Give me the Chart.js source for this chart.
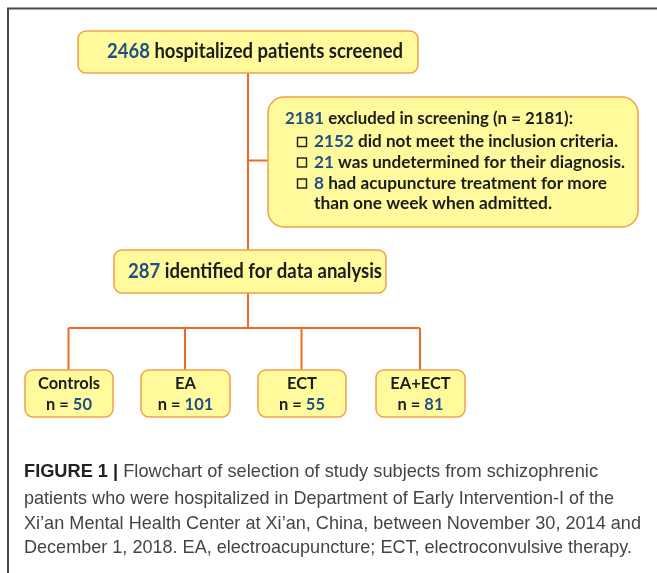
<!DOCTYPE html>
<html>
<head>
<meta charset="utf-8">
<script src="https://cdn.jsdelivr.net/npm/chart.js@4.4.1/dist/chart.umd.min.js"></script>
<style>
  html, body { margin: 0; padding: 0; background: #fff; }
  #flow { display: block; }
</style>
</head>
<body>
<canvas id="flow" width="657" height="573"></canvas>
<script>
// counts
var screenedCount = 2468;
var excludedCount = 2181;
var exclusionCounts = [2152, 21, 8];
var exclusionReasons = [
    'did not meet the inclusion criteria.',
    'was undetermined for their diagnosis.',
    'had acupuncture treatment for more'
];
var exclusionTail = 'than one week when admitted.';
var analysedCount = 287;
var groupNames = ['Controls', 'EA', 'ECT', 'EA+ECT'];
var groupCounts = [50, 101, 55, 81];
var captionLines = [
    'Flowchart of selection of study subjects from schizophrenic',
    'patients who were hospitalized in Department of Early Intervention-I of the',
    'Xi\u2019an Mental Health Center at Xi\u2019an, China, between November 30, 2014 and',
    'December 1, 2018. EA, electroacupuncture; ECT, electroconvulsive therapy.'
];

// layout (page coordinates, mapped through the hidden scales)
var layout = {
    top: { x1: 78, y1: 31, x2: 418, y2: 73, textX: 107, textW: 296 },
    excl: { x1: 268, y1: 97, x2: 638, y2: 227 },
    mid: { x1: 114, y1: 250, x2: 386, y2: 293, textX: 128, textW: 254 },
    trunkX: 248,
    branchY: 328,
    groups: [[25, 113], [141, 230], [258, 346], [376, 465]],
    groupY: [370, 417]
};

var BOX_FILL = '#fffa9c';
var BOX_EDGE = '#f2a048';
var LINE = '#f26a21';
var NUM = '#1f4f86';
var INK = '#1c1c1c';
var FONT = 'Lato, "Open Sans", sans-serif';

var xs, ys;
function px(v) { return xs.getPixelForValue(v); }
function py(v) { return ys.getPixelForValue(v); }

function roundBox(ctx, x1, y1, x2, y2, r) {
    var a = px(x1), b = py(y1), c = px(x2), d = py(y2);
    ctx.beginPath();
    ctx.roundRect(a, b, c - a, d - b, r);
    ctx.fillStyle = BOX_FILL;
    ctx.fill();
    ctx.lineWidth = 1.5;
    ctx.strokeStyle = BOX_EDGE;
    ctx.stroke();
}

function line(ctx, pts) {
    ctx.beginPath();
    pts.forEach(function (p, i) {
        if (i === 0) ctx.moveTo(px(p[0]), py(p[1]));
        else ctx.lineTo(px(p[0]), py(p[1]));
    });
    ctx.lineWidth = 2;
    ctx.strokeStyle = LINE;
    ctx.stroke();
}

// draws coloured pieces of text, squeezed to a given width
function richText(ctx, parts, x, y, width, font) {
    ctx.font = font;
    var total = 0;
    parts.forEach(function (p) {
        ctx.font = p.font || font;
        total += ctx.measureText(p.t).width;
    });
    var k = width ? width / total : 1;
    ctx.save();
    ctx.translate(px(x), py(y));
    ctx.scale(k, 1);
    ctx.textBaseline = 'middle';
    ctx.textAlign = 'left';
    var cx = 0;
    parts.forEach(function (p) {
        ctx.font = p.font || font;
        ctx.fillStyle = p.c;
        ctx.fillText(p.t, cx, 0);
        cx += ctx.measureText(p.t).width;
    });
    ctx.restore();
    return total * k;
}

function centredText(ctx, parts, cx, y, font, k) {
    ctx.font = font;
    var total = 0;
    parts.forEach(function (p) { total += ctx.measureText(p.t).width; });
    richText(ctx, parts, cx - total * k / 2, y, total * k, font);
}

var flowPlugin = {
    id: 'flow',
    afterDraw: function (chart) {
        var ctx = chart.ctx;
        xs = chart.scales.x;
        ys = chart.scales.y;
        var L = layout;

        // outer frame
        ctx.beginPath();
        ctx.moveTo(px(8), py(600));
        ctx.lineTo(px(8), py(8.5));
        ctx.lineTo(px(700), py(8.5));
        ctx.lineWidth = 2;
        ctx.strokeStyle = '#4a4a4a';
        ctx.stroke();

        // connectors
        line(ctx, [[L.trunkX, L.top.y2], [L.trunkX, L.mid.y1]]);
        line(ctx, [[L.trunkX, 160.5], [L.excl.x1, 160.5]]);
        line(ctx, [[L.trunkX, L.mid.y2], [L.trunkX, L.branchY]]);
        var first = L.groups[0], last = L.groups[L.groups.length - 1];
        line(ctx, [[(first[0] + first[1]) / 2 - 0.5, L.branchY], [(last[0] + last[1]) / 2 - 0.5, L.branchY]]);
        L.groups.forEach(function (g) {
            var cx = (g[0] + g[1]) / 2 - 0.5;
            line(ctx, [[cx, L.branchY], [cx, L.groupY[0]]]);
        });

        // boxes
        roundBox(ctx, L.top.x1, L.top.y1, L.top.x2, L.top.y2, 8);
        roundBox(ctx, L.excl.x1, L.excl.y1, L.excl.x2, L.excl.y2, 16);
        roundBox(ctx, L.mid.x1, L.mid.y1, L.mid.x2, L.mid.y2, 8);
        L.groups.forEach(function (g) {
            roundBox(ctx, g[0], L.groupY[0], g[1], L.groupY[1], 8);
        });

        var big = 'bold 21px ' + FONT;
        var small = 'bold 17px ' + FONT;

        richText(ctx, [
            { t: String(screenedCount), c: NUM },
            { t: ' hospitalized patients screened', c: INK }
        ], L.top.textX, 51, L.top.textW, big);

        richText(ctx, [
            { t: String(analysedCount), c: NUM },
            { t: ' identified for data analysis', c: INK }
        ], L.mid.textX, 271, L.mid.textW, big);

        // exclusion box
        richText(ctx, [
            { t: String(excludedCount), c: NUM },
            { t: ' excluded in screening (n = ' + excludedCount + '):', c: INK }
        ], 285, 119, 288, small);
        var rowY = [142, 162.5, 183.5];
        var rowW = [304, 311, 293];
        exclusionCounts.forEach(function (n, i) {
            ctx.lineWidth = 1.4;
            ctx.strokeStyle = INK;
            ctx.strokeRect(px(297.5), py(rowY[i] - 4.5), 9, 9);
            richText(ctx, [
                { t: String(n), c: NUM },
                { t: ' ' + exclusionReasons[i], c: INK }
            ], 314, rowY[i], rowW[i], small);
        });
        richText(ctx, [{ t: exclusionTail, c: INK }], 314, 203.5, 238, small);

        // group boxes
        var k = 0.94;
        var groupFont = 'bold 17.5px ' + FONT;
        L.groups.forEach(function (g, i) {
            var cx = (g[0] + g[1]) / 2;
            centredText(ctx, [{ t: groupNames[i], c: INK }], cx, 383.5, groupFont, k);
            centredText(ctx, [
                { t: 'n = ', c: INK },
                { t: String(groupCounts[i]), c: NUM }
            ], cx, 404, groupFont, k);
        });

        // caption
        var capFont = '19px "Liberation Sans", Arial, sans-serif';
        var capBold = 'bold 19px "Liberation Sans", Arial, sans-serif';
        var capY = [472, 498.5, 523.5, 548];
        var capW = [574, 590, 617, 608];
        richText(ctx, [
            { t: 'FIGURE 1', c: '#222', font: capBold },
            { t: ' | ', c: '#222', font: capBold },
            { t: captionLines[0], c: '#444' }
        ], 24, capY[0], capW[0], capFont);
        for (var j = 1; j < captionLines.length; j++) {
            richText(ctx, [{ t: captionLines[j], c: '#444' }], 24, capY[j], capW[j], capFont);
        }
    }
};

var ctx = document.getElementById('flow').getContext('2d');
new Chart(ctx, {
    type: 'scatter',
    data: { datasets: [{ data: [], pointRadius: 0 }] },
    options: {
        responsive: false,
        animation: false,
        layout: { padding: 0 },
        scales: {
            x: { type: 'linear', min: 0, max: 657, display: false },
            y: { type: 'linear', min: 0, max: 573, reverse: true, display: false }
        },
        plugins: {
            legend: { display: false },
            tooltip: { enabled: false }
        }
    },
    plugins: [flowPlugin]
});
</script>
</body>
</html>
